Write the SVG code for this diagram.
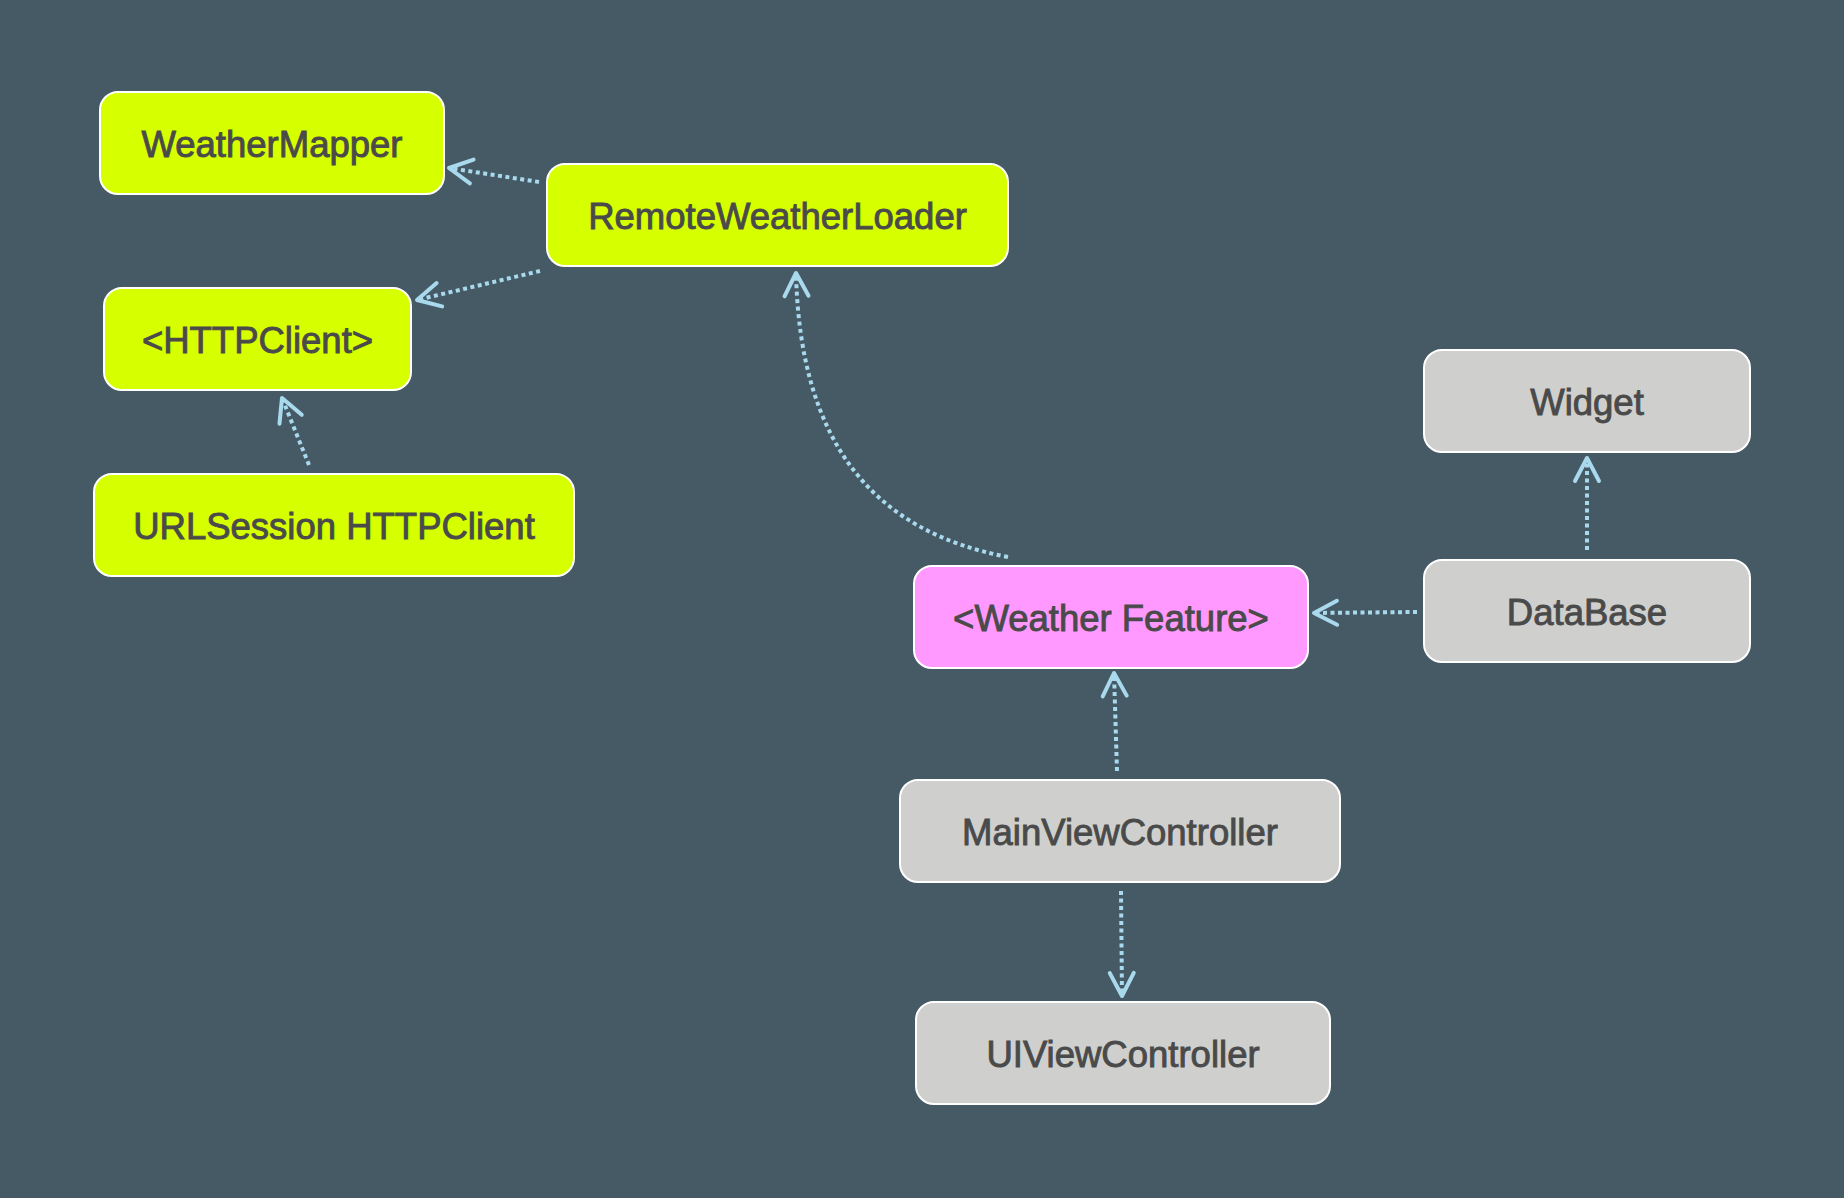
<svg xmlns="http://www.w3.org/2000/svg" width="1844" height="1198" viewBox="0 0 1844 1198">
  <style>
    .box { stroke: #ffffff; stroke-width: 2; }
    .lime { fill: #d6ff00; }
    .pink { fill: #ff99ff; }
    .gray { fill: #cfd0ce; }
    .label { font-family: "Liberation Sans", Arial, sans-serif; font-size: 36.5px; fill: #4a4a4a; text-anchor: middle; stroke: #4a4a4a; stroke-width: 0.9; }
    .conn { fill: none; stroke: #a9d9ec; stroke-width: 4; stroke-dasharray: 4 3.5; marker-end: url(#arrow); }
  </style>
  <defs>
    <marker id="arrow" markerUnits="userSpaceOnUse" markerWidth="60" markerHeight="60" refX="0" refY="0" orient="auto" overflow="visible">
      <path d="M-23,-12 L0,0 L-23,12" fill="none" stroke="#a9d9ec" stroke-width="4" stroke-linecap="round" stroke-linejoin="round" stroke-dasharray="none"/>
    </marker>
  </defs>
  <rect x="0" y="0" width="1844" height="1198" fill="#465a66"/>

  <g id="connectors">
    <path class="conn" d="M539,182 L449,168"/>
    <path class="conn" d="M540,271 L417,300"/>
    <path class="conn" d="M309,465 L282,398"/>
    <path class="conn" d="M1008,557 C875,532 800,445 796,273"/>
    <path class="conn" d="M1417,612 L1314,613"/>
    <path class="conn" d="M1587,550 L1587,458"/>
    <path class="conn" d="M1117,771 L1114,673"/>
    <path class="conn" d="M1121,891 L1122,996"/>
  </g>

  <g id="WeatherMapper">
    <rect class="box lime" x="100" y="92" width="344" height="102" rx="18"/>
    <text class="label" x="272" y="157">WeatherMapper</text>
  </g>
  <g id="RemoteWeatherLoader">
    <rect class="box lime" x="547" y="164" width="461" height="102" rx="18"/>
    <text class="label" x="777.5" y="229">RemoteWeatherLoader</text>
  </g>
  <g id="HTTPClient">
    <rect class="box lime" x="104" y="288" width="307" height="102" rx="18"/>
    <text class="label" x="257.5" y="353">&lt;HTTPClient&gt;</text>
  </g>
  <g id="URLSessionHTTPClient">
    <rect class="box lime" x="94" y="474" width="480" height="102" rx="18"/>
    <text class="label" x="334" y="539">URLSession HTTPClient</text>
  </g>
  <g id="Widget">
    <rect class="box gray" x="1424" y="350" width="326" height="102" rx="18"/>
    <text class="label" x="1587" y="415">Widget</text>
  </g>
  <g id="DataBase">
    <rect class="box gray" x="1424" y="560" width="326" height="102" rx="18"/>
    <text class="label" x="1587" y="625">DataBase</text>
  </g>
  <g id="WeatherFeature">
    <rect class="box pink" x="914" y="566" width="394" height="102" rx="18"/>
    <text class="label" x="1111" y="631">&lt;Weather Feature&gt;</text>
  </g>
  <g id="MainViewController">
    <rect class="box gray" x="900" y="780" width="440" height="102" rx="18"/>
    <text class="label" x="1120" y="845">MainViewController</text>
  </g>
  <g id="UIViewController">
    <rect class="box gray" x="916" y="1002" width="414" height="102" rx="18"/>
    <text class="label" x="1123" y="1067">UIViewController</text>
  </g>
</svg>
